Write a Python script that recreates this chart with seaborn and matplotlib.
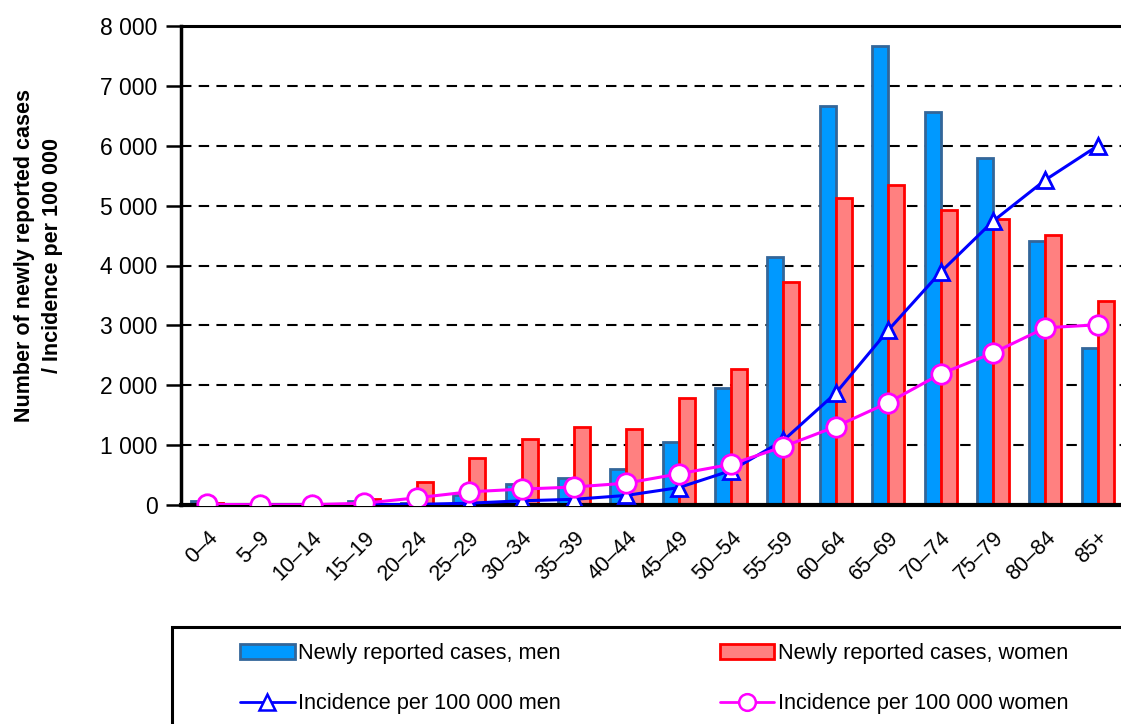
import numpy as np
import pandas as pd
import matplotlib
matplotlib.use("Agg")
import matplotlib.pyplot as plt
from matplotlib.ticker import FixedLocator, FuncFormatter
from matplotlib.patches import Patch, Rectangle
from matplotlib.lines import Line2D
import seaborn as sns

sns.set_style("white")
plt.rcParams["font.family"] = ["Liberation Sans", "DejaVu Sans"]
plt.rcParams["text.color"] = "black"
plt.rcParams["xtick.color"] = "black"
plt.rcParams["ytick.color"] = "black"
plt.rcParams["axes.labelcolor"] = "black"

ages = ["0–4", "5–9", "10–14", "15–19", "20–24", "25–29", "30–34", "35–39", "40–44",
        "45–49", "50–54", "55–59", "60–64", "65–69", "70–74", "75–79", "80–84", "85+"]
cases_men = [60, 20, 25, 60, 30, 160, 350, 450, 600, 1050, 1950, 4150, 6670, 7660,
             6560, 5790, 4410, 2630]
cases_women = [40, 15, 10, 95, 385, 780, 1110, 1310, 1270, 1790, 2265, 3730, 5130,
               5350, 4920, 4780, 4510, 3410]
inc_men = [0, 0, 0, 5, 10, 30, 70, 95, 160, 290, 575, 1080, 1870, 2920, 3890, 4740,
           5430, 6000]
inc_women = [10, 5, 5, 30, 120, 220, 265, 300, 365, 520, 680, 975, 1310, 1710, 2190,
             2540, 2960, 3010]

lab_men = "Newly reported cases, men"
lab_women = "Newly reported cases, women"

df = pd.DataFrame({
    "age": ages * 2,
    "cases": cases_men + cases_women,
    "group": [lab_men] * len(ages) + [lab_women] * len(ages),
})

fig = plt.figure(figsize=(11.21, 7.24), dpi=100)
ax = fig.add_axes([181 / 1121, 1 - 505 / 724, 943 / 1121, 479 / 724])

sns.barplot(data=df, x="age", y="cases", hue="group", order=ages,
            palette={lab_men: "#0099FF", lab_women: "#FF8080"}, saturation=1,
            width=0.61, gap=0, ax=ax, legend=False, zorder=2)
for cont, ec in zip(ax.containers, ["#336699", "#FF0000"]):
    for bar in cont:
        bar.set_edgecolor(ec)
        bar.set_linewidth(2)

x = np.arange(len(ages))
sns.lineplot(x=x, y=inc_men, ax=ax, color="#0000FF", lw=2.2, marker="^",
             markersize=12, markerfacecolor="white", markeredgecolor="#0000FF",
             markeredgewidth=2, zorder=4)
sns.lineplot(x=x, y=inc_women, ax=ax, color="#FF00FF", lw=2.2, marker="o",
             markersize=14, markerfacecolor="white", markeredgecolor="#FF00FF",
             markeredgewidth=2, zorder=5)

ax.set_xlim(-0.5, len(ages) - 0.5)
ax.set_ylim(0, 8000)
ax.set_yticks(np.arange(0, 8001, 1000))
ax.yaxis.set_major_formatter(FuncFormatter(lambda v, p: f"{int(v):,}".replace(",", " ")))
for v in range(1000, 8000, 1000):
    ax.axhline(v, color="black", lw=1.5, ls=(0, (5, 3.5)), zorder=1)

ax.set_xticks(x)
ax.set_xticklabels(ages, rotation=45, ha="right", rotation_mode="anchor")
ax.xaxis.set_minor_locator(FixedLocator(np.arange(0.5, len(ages), 1)))
ax.tick_params(axis="x", which="major", length=0, labelsize=15.5, pad=16)
ax.tick_params(axis="x", which="minor", length=8, width=2.2, direction="out")
ax.tick_params(axis="y", length=11, width=1.8, direction="out", labelsize=16.5,
               left=True, pad=6)

for s in ["left", "bottom", "top"]:
    ax.spines[s].set_color("black")
ax.spines["left"].set_linewidth(2.5)
ax.spines["bottom"].set_linewidth(3)
ax.spines["top"].set_linewidth(2.2)
ax.spines["right"].set_visible(False)

ax.set_xlabel("")
ax.set_ylabel("Number of newly reported cases\n/ Incidence per 100 000",
              fontsize=15.5, fontweight="bold", linespacing=1.45)
ax.yaxis.set_label_coords(-0.125, 0.52)

# legend frame runs off the right and bottom edges, as in the original
fig.patches.append(Rectangle((172 / 1121, -0.1), 1.0, 1 - 627 / 724 + 0.1,
                             transform=fig.transFigure, fill=False,
                             edgecolor="black", lw=2.2))

handles = [
    Patch(facecolor="#0099FF", edgecolor="#336699", lw=2),
    Line2D([], [], color="#0000FF", lw=2, marker="^", markersize=11,
           markerfacecolor="white", markeredgecolor="#0000FF", markeredgewidth=1.8),
    Patch(facecolor="#FF8080", edgecolor="#FF0000", lw=2),
    Line2D([], [], color="#FF00FF", lw=2, marker="o", markersize=12,
           markerfacecolor="white", markeredgecolor="#FF00FF", markeredgewidth=1.8),
]
labels = [lab_men, "Incidence per 100 000 men", lab_women, "Incidence per 100 000 women"]
leg = fig.legend(handles, labels, ncol=2, loc="upper left",
                 bbox_to_anchor=(240 / 1121, 1 - 643 / 724),
                 fontsize=15.7, frameon=False,
                 handlelength=2.5, handleheight=0.7, handletextpad=0.15, borderpad=0,
                 labelspacing=1.35, columnspacing=7.3, borderaxespad=0)

fig.savefig("out.png", dpi=100)
